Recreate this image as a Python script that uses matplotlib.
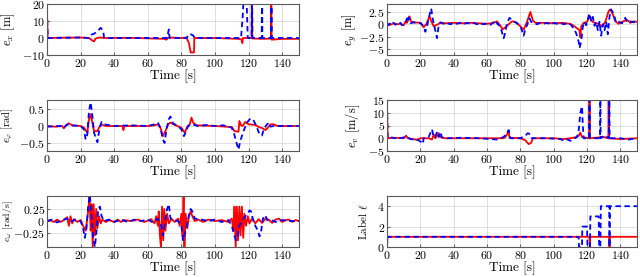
import numpy as np
import matplotlib
matplotlib.use('Agg')
import matplotlib.pyplot as plt

plt.rcParams['font.family'] = 'serif'
plt.rcParams['font.serif'] = ['cmr10']
plt.rcParams['mathtext.fontset'] = 'cm'
plt.rcParams['axes.formatter.use_mathtext'] = True
plt.rcParams['font.size'] = 9

# --- data: (time [s], value) ---
ex_red = [(0, 16), (0.4, 0), (10, 0.2), (20, 0.3), (25, 0), (27, -1.5), (28, -2), (29, -0.3), (31, 0.3), (35, 0),
          (50, 0.1), (70, -0.5), (71, -1), (72, 0), (73, 0.3), (80, 0), (83, 0.2), (84.5, -3), (85.5, -8.5),
          (87.5, -8.5), (87.7, 0), (100, 0), (114, -0.5), (116, -1), (116.3, -3), (116.6, 0), (121.8, 0),
          (122, 32), (122.2, -0.3), (130, -0.5), (133.3, -0.3), (133.5, 32), (133.7, -1), (140, -0.5), (150, -0.5)]
ex_blue = [(0, 16), (0.4, 0), (20, 0.3), (25, 0), (26.5, 2), (28, 2.5), (30, 4), (32, 6), (33.5, 4), (34, 0),
           (50, 0), (71.5, 0), (72.5, 5), (73, 0), (83, 0), (85, 2.5), (87, 1.5), (88, 0), (115.5, 0),
           (116.5, 13), (117.5, 32), (118.5, 32), (119.5, 0), (121.8, 0), (122, 32), (122.3, 0), (127.8, 0),
           (128, 32), (128.2, 0), (133.4, 0), (133.6, 32), (133.8, 0), (150, 0)]

ey_red = [(0, 0.1), (2, -0.1), (4, 0.2), (6, 0), (8, 0.1), (10, -0.2), (11, 0.5), (12, 0.3), (13.5, 1.6),
          (14.5, 0.5), (16, 0.4), (20, 0.3), (22, -0.6), (23.5, 0), (25.5, 1.6), (26.5, 0.7), (28, -0.4),
          (30, -0.1), (32, 0.3), (36, 0.2), (40, 0.3), (45, 0.2), (50, 0.3), (55, 0.2), (60, 0.1), (64, 0.3),
          (66, 0.6), (68, -0.3), (69.5, -1.0), (71, -0.6), (73, 0), (75, 0.6), (77, 0.5), (80, -0.4), (82, -1.1),
          (84, 0.5), (86, 2.5), (87.5, 0.8), (89, 0.3), (95, 0.3), (100, 0.2), (105, 0.3), (110, 0.1),
          (112, -0.3), (114, -0.8), (115.5, -1.2), (116, -2.6), (116.5, -0.5), (118, 0.3), (120, 0.5),
          (121.5, 1.6), (123, 0.6), (125, 0.2), (127, 0.1), (129, -0.4), (131, 0.5), (133, 2.7), (134, 3.0),
          (135.5, 2.0), (137, 0.6), (139, 0.1), (141, 0.5), (144, 0.9), (146, 0.3), (148, 0.6), (150, 0.5)]
ey_blue = [(0, 0.2), (1, -0.2), (2, 0.3), (3, 0), (4, 0.3), (5, -0.1), (6, 0.2), (7, 0), (8, 0.3), (9, -0.2),
           (10, 0.1), (11, 0.3), (12, 1.2), (12.5, 0.5), (13, 1.4), (14, 0.2), (16, 0.4), (18, 0.2), (20, 0.3),
           (22, -0.4), (23, -1.5), (24, -0.5), (25, 1.2), (26.5, 3.2), (27.5, 1), (28.5, -0.5), (30, -2.8),
           (31, -0.3), (32, 0.4), (34, 0.1), (36, 0.3), (38, 0), (40, 0.3), (42, 0.1), (44, 0.3), (46, 0),
           (48, 0.3), (50, 0.1), (52, 0.3), (54, 0), (56, 0.2), (58, 0), (60, 0.2), (62, -0.1), (64, 0.4),
           (65, 0.8), (66, 0.2), (68, -0.5), (69, -1.6), (70, -2.8), (71, -1.6), (72, 0.2), (73.5, 1.3),
           (75, 0.9), (77, 0.4), (79, 0), (80.5, -0.8), (82, -2.3), (83, -1), (84, -0.2), (85.5, 1.2),
           (86.5, 0.5), (88, 0.3), (90, 0), (92, 0.3), (94, 0.1), (96, 0.3), (98, 0), (100, 0.3), (102, 0.1),
           (104, 0.3), (106, 0), (108, 0.2), (110, 0), (112, -0.8), (113.5, -1.8), (115, -3.5), (115.5, -4.8),
           (116.5, -3.5), (117.5, -0.5), (118.5, 0.5), (119.5, -0.2), (120.5, 1), (121.5, 2.2), (122.5, 0.6),
           (123.5, 1.5), (124.5, -0.3), (125.5, 0.5), (126.5, -1.2), (127.5, 0.5), (128.5, -2.3), (129.5, 0),
           (130.5, -1.2), (131.5, 0.5), (132.5, -2), (133.5, 1.5), (134.5, 3), (135.5, 2.4), (136.5, 1.5),
           (137.5, 0.3), (139, 0.5), (141, 0.2), (143, 1.3), (144, 0.4), (146, 0.6), (148, 0.4), (150, 0.5)]

ephi_red = [(0, 0), (5, -0.02), (9, 0), (10, -0.07), (11, 0), (13, 0.08), (15, 0.02), (20, 0), (22, -0.05),
            (24, -0.2), (25, 0.2), (26, 0.35), (27, 0.1), (28, -0.15), (30, -0.15), (32, 0.05), (35, 0), (45, 0),
            (45.5, -0.12), (46, 0), (60, 0), (64, 0.02), (66, 0.05), (67.5, -0.05), (69, -0.3), (70.5, -0.15),
            (72, 0.05), (73.5, 0.1), (76, 0.03), (80, -0.05), (82, -0.2), (83.5, -0.02), (85, 0.05), (86, 0.25),
            (87, 0.1), (89, 0.02), (100, 0), (110, -0.03), (111.5, -0.15), (114, -0.17), (114.5, 0.15),
            (115.5, 0.02), (116.5, 0), (118, 0.12), (120, 0.05), (122, 0.04), (124, 0.03), (126, -0.03),
            (128, -0.06), (130, -0.12), (131.5, -0.05), (133, 0.05), (135, 0.05), (137, 0), (150, 0)]
ephi_blue = [(0, -0.02), (8, 0), (10, -0.05), (12, 0.05), (14, 0.02), (20, 0), (22, -0.1), (23, -0.4),
             (24, -0.25), (25, 0.45), (26, 0.7), (27, 0.3), (28, -0.2), (29, -0.35), (30, -0.48), (31, -0.15),
             (32.5, 0.12), (34, 0.05), (40, 0), (50, 0.02), (60, 0), (64, 0.05), (66, 0.1), (67.5, -0.05),
             (69, -0.4), (70, -0.5), (71, -0.15), (72.5, 0.2), (73.5, 0.28), (75, 0.08), (78, 0), (80, -0.1),
             (81.5, -0.3), (82.5, -0.2), (84, 0), (86, 0.05), (90, 0), (95, 0.03), (100, 0), (105, 0.02),
             (110, -0.05), (111.5, -0.25), (112.5, -0.45), (114, -0.7), (115, -0.45), (117, -0.15), (119, 0.1),
             (121, 0.22), (122.5, 0.2), (124.5, 0.02), (126.5, -0.25), (128, -0.28), (129, -0.1), (130.5, 0.02),
             (132, 0.1), (133, -0.02), (135, 0), (150, 0)]

ev_red = [(0, 13), (0.4, 0), (5, 0.2), (10, 0), (11.5, 1), (12.5, 0), (15, -0.3), (18, -0.6), (20, 0), (25, 0),
          (27, -0.5), (28, 1.5), (29, 0), (30, 1), (31, 2), (32, 0.5), (35, 0), (50, 0), (60, 0), (70, 0),
          (71, 0.5), (72, 1.5), (73, 3), (73.5, 0.2), (80, 0), (83, -0.8), (85, -2.3), (86.5, -1.8), (87.5, 0),
          (100, 0), (106, -0.3), (110, 0), (114, 0.5), (115, 1), (116, 2.2), (117, 0.5), (121.3, 0),
          (121.5, 17), (121.7, 0), (130, 0.5), (132.8, 0), (133, 17), (133.2, 0), (140, -0.3), (150, 0)]
ev_blue = [(0, 13), (0.4, 0), (3, 0.3), (6, -0.2), (9, 0.2), (12, 0.5), (14, -0.3), (17, -0.6), (19, -0.8),
           (20.5, -1.5), (21.5, -2.2), (22, 0), (25, 0.5), (27, 3.5), (28, 0.5), (29, 0.5), (30, 2.5), (31, 0.5),
           (32, 2.5), (33, 0.3), (36, 0), (45, 0.2), (55, 0), (62, -0.3), (66, -0.5), (70, 0.5), (72, 2),
           (73, 3.2), (74, 0), (80, 0), (83, 1), (84.5, 2), (86, 1.5), (87, 0), (95, 0), (104, -0.3), (106, -1),
           (108, -0.4), (110, -1), (112, -0.3), (114, 0.5), (115, 3), (116, 10), (117, 12.5), (117.5, 5),
           (118, 0), (121.3, 0), (121.5, 17), (121.7, 0), (127.8, 0), (128, 17), (128.2, 0), (130, 1),
           (132, 0.5), (133.2, 0), (133.4, 17), (133.6, 0), (140, 0), (145, -0.5), (150, 0)]

ew_red = [(0, 0), (2, 0.02), (4, -0.02), (6, 0.03), (8, -0.02), (10, 0.02), (12, 0.08), (13, -0.1), (14, 0.1),
          (15, -0.05), (16, 0.04), (18, -0.02), (20, 0.02), (21.5, -0.1), (23, -0.2), (24, 0.05), (24.8, 0.3),
          (25.3, 0.52), (26, -0.2), (26.5, 0.35), (27.2, -0.54), (27.8, 0.35), (28.5, -0.3), (29.3, 0.25),
          (30, -0.15), (31, 0.1), (32, -0.05), (33, 0.03), (35, -0.02), (37, 0.02), (40, -0.02), (42, 0.03),
          (44, -0.02), (46, 0.02), (50, 0), (54, 0.03), (58, -0.02), (62, 0.04), (64, -0.05), (65, 0.1),
          (66, -0.1), (66.5, 0.2), (67.2, -0.3), (67.8, -0.54), (68.5, 0.3), (69.2, -0.4), (69.8, 0.25),
          (70.5, -0.2), (71.5, 0.15), (72.5, -0.05), (74, 0.05), (76, -0.02), (78, 0.05), (79, -0.1),
          (80, 0.15), (80.7, -0.3), (81.3, 0.52), (81.8, -0.54), (82.5, 0.15), (83.5, -0.15), (84.5, 0.1),
          (85.5, 0.2), (86.5, 0.1), (88, 0), (90, 0.03), (93, -0.02), (96, 0.03), (100, 0), (104, 0.02),
          (108, -0.02), (110, 0.05), (111, -0.2), (111.6, 0.3), (112.3, -0.54), (113, 0.3), (113.7, -0.4),
          (114.5, 0.3), (115.2, -0.3), (116, 0.3), (116.8, -0.35), (117.5, 0.15), (118.5, -0.1), (119.5, 0.1),
          (120.5, -0.05), (122, 0.05), (124, -0.05), (126, 0.04), (128, -0.04), (130, 0.05), (132, 0.03),
          (134, -0.04), (136, 0.03), (138, 0.05), (140, -0.02), (142, 0.02), (144, 0.03), (146, -0.02),
          (148, 0.02), (150, 0)]
ew_blue = [(0, 0), (3, 0.03), (6, -0.03), (9, 0.02), (12, 0.05), (14, -0.02), (17, 0.03), (20, 0), (21.5, -0.15),
           (22.5, -0.35), (23.5, -0.15), (24.5, 0.3), (25.5, 0.54), (26.5, 0.1), (27.5, -0.35), (28.5, -0.54),
           (29.5, -0.2), (30.5, 0.25), (31.5, 0.3), (32.5, 0.1), (34, 0), (37, 0.03), (40, -0.02), (44, 0.03),
           (48, -0.02), (52, 0.03), (56, 0), (60, 0.03), (63, -0.03), (66, 0.05), (68, -0.1), (69, -0.3),
           (70.5, 0.05), (71.5, 0.25), (72.5, 0.35), (73.5, 0.05), (75, 0.02), (78, 0), (80, -0.1), (81, -0.4),
           (82.5, -0.2), (84, 0.05), (85.5, 0.25), (86.5, 0.2), (88, 0.05), (92, 0.03), (96, 0), (100, 0.03),
           (104, -0.02), (108, 0.02), (110, -0.1), (111.5, -0.3), (112.5, -0.4), (113.5, -0.3), (114.5, -0.1),
           (116, 0), (118, 0.1), (119.5, 0.15), (120.5, 0.22), (121.5, 0.2), (122.5, 0.05), (124, -0.1),
           (125.5, -0.2), (126.5, -0.32), (127.5, -0.2), (128.5, 0.05), (130, 0.12), (131, 0.02), (133, 0.03),
           (136, -0.02), (140, 0.02), (145, 0), (150, 0)]

lab_red = [(0, 0), (0.3, 1), (121.5, 1), (121.7, 0), (121.9, 1), (133.3, 1), (133.5, 0), (133.7, 1), (150, 1)]
lab_blue = [(0, 0), (0.3, 1), (115, 1), (115.2, 0), (117, 0), (117.2, 2), (120, 2), (120.3, 0), (121.8, 0),
            (122, 3), (127, 3), (127.3, 0), (128, 0), (128.3, 4), (133.3, 4), (133.5, 0), (133.8, 4), (150, 4)]

ytick_ex = [-10, 0, 10, 20]
ytick_ey = [-5, -2.5, 0, 2.5]
ytick_ephi = [-0.5, 0, 0.5]
ytick_ev = [-5, 0, 5, 10, 15]
ytick_ew = [-0.25, 0, 0.25]
ytick_lab = [0, 2, 4]

panels = [
    # (red, blue, ylabel, ylim, yticks, ylabel size, ylabel right edge x [px])
    (ex_red, ex_blue, r'$e_x$ [m]', (-10, 20), ytick_ex, 9, 17),
    (ey_red, ey_blue, r'$e_y$ [m]', (-6.2, 4.1), ytick_ey, 9, 359),
    (ephi_red, ephi_blue, r'$e_\varphi$ [rad]', (-0.74, 0.77), ytick_ephi, 7.5, 15),
    (ev_red, ev_blue, r'$e_v$ [m/s]', (-5, 15), ytick_ev, 9, 362),
    (ew_red, ew_blue, r'$e_\omega$ [rad/s]', (-0.54, 0.52), ytick_ew, 7, 15),
    (lab_red, lab_blue, r'Label $\ell$', (0, 5), ytick_lab, 8, 370),
]


def tick_text(v):
    return f'${v:g}$'


W, H = 640, 277
lefts = [47, 387]
widths = [252, 250]
tops = [4, 100, 196]
ax_h = 51

fig = plt.figure(figsize=(W / 100, H / 100), dpi=100)

for i, (red, blue, ylab, ylim, yt, lsize, lx) in enumerate(panels):
    row, col = i // 2, i % 2
    ax = fig.add_axes([lefts[col] / W, 1 - (tops[row] + ax_h) / H, widths[col] / W, ax_h / H])
    r = np.array(red)
    b = np.array(blue)
    ax.plot(r[:, 0], r[:, 1], color='red', lw=1.3)
    ax.plot(b[:, 0], b[:, 1], color='blue', lw=1.3, dashes=(3, 2))
    ax.set_xlim(0, 150)
    ax.set_ylim(*ylim)
    ax.set_xticks(np.arange(0, 151, 20))
    ax.set_yticks(yt)
    ax.set_yticklabels([tick_text(v) for v in yt])
    ax.grid(True, color='0.85', lw=0.6)
    ax.set_axisbelow(True)
    for s in ax.spines.values():
        s.set_color('0.35')
        s.set_linewidth(0.8)
    ax.tick_params(direction='in', length=2, color='0.4', labelsize=8.5, pad=1.5)
    ax.set_xlabel('Time [s]', fontsize=9.5, labelpad=0)
    ax.set_ylabel(ylab, fontsize=lsize)
    ax.yaxis.set_label_coords((lx - lefts[col]) / widths[col], 0.5)

fig.savefig('out.png', dpi=100)
plt.close()
